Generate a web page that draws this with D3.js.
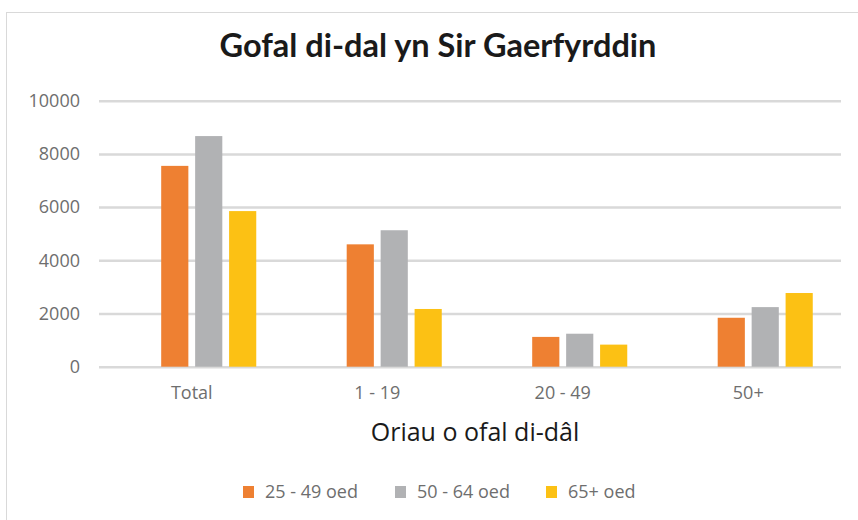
<!DOCTYPE html>
<html><head><meta charset="utf-8">
<script src="https://cdn.jsdelivr.net/npm/d3@7"></script>
<style>
html,body{margin:0;padding:0;background:#fff;}
svg{display:block;}
</style></head>
<body>
<svg id="chart" width="858" height="520"></svg>
<script>
const title = "Gofal di-dal yn Sir Gaerfyrddin";
const xTitle = "Oriau o ofal di-dâl";
const categories = ["Total", "1 - 19", "20 - 49", "50+"];
const seriesNames = ["25 - 49 oed", "50 - 64 oed", "65+ oed"];
const colors = ["#EE8032", "#B1B2B4", "#FCC114"];
const s2549 = [7550, 4600, 1120, 1840];
const s5064 = [8670, 5130, 1240, 2240];
const s65 = [5850, 2170, 830, 2770];
const yTicks = [0, 2000, 4000, 6000, 8000, 10000];
// the original chart keeps an empty first series slot in each group
const slots = ["(gwag)", ...seriesNames];

const seriesValues = [s2549, s5064, s65];
const svg = d3.select("#chart");
const font = "'Open Sans', 'Noto Sans', sans-serif";

svg.append("rect").attr("x", 6.5).attr("y", 12.5).attr("width", 870).attr("height", 530)
  .attr("fill", "#fff").attr("stroke", "#D9D9D9").attr("stroke-width", 1);

const plot = {left: 99, right: 841, top: 100.7, bottom: 366.7};

const y = d3.scaleLinear().domain([0, 10000]).range([plot.bottom, plot.top]);
const x0 = d3.scaleBand().domain(categories).range([plot.left, plot.right]).paddingInner(0).paddingOuter(0);
const x1 = d3.scaleBand().domain(slots).range([0, x0.bandwidth()]).paddingInner(0.2).paddingOuter(0.832);

// gridlines
const yAxis = d3.axisLeft(y).tickValues(yTicks).tickSize(-(plot.right - plot.left)).tickFormat(d3.format("d"));
const gy = svg.append("g").attr("transform", `translate(${plot.left},0)`).call(yAxis);
gy.select(".domain").remove();
gy.selectAll(".tick line").attr("stroke", "#D9D9D9").attr("stroke-width", 2.5);
gy.selectAll(".tick text").attr("x", -19).attr("fill", "#6E6E6E")
  .style("font-family", font).style("font-size", "18px");

// bars
const groups = svg.append("g").selectAll("g").data(categories).join("g")
  .attr("transform", d => `translate(${x0(d)},0)`);
seriesNames.forEach((name, si) => {
  groups.append("rect")
    .attr("x", (d) => x1(name))
    .attr("width", x1.bandwidth())
    .attr("y", (d, i) => y(seriesValues[si][i]))
    .attr("height", (d, i) => y(0) - y(seriesValues[si][i]))
    .attr("fill", colors[si]);
});

// x axis labels
const xAxis = d3.axisBottom(x0).tickSize(0).tickPadding(0);
const gx = svg.append("g").attr("transform", `translate(0,${plot.bottom + 20})`).call(xAxis);
gx.select(".domain").remove();
gx.selectAll(".tick text").attr("fill", "#6E6E6E").style("font-family", font).style("font-size", "18px");

// title
svg.append("text").attr("x", 438).attr("y", 57).attr("text-anchor", "middle")
  .attr("fill", "#1a1a1a").style("font-family", "Lato, 'Open Sans', sans-serif")
  .style("font-weight", 700).style("font-size", "32.5px").text(title);

// x title
svg.append("text").attr("x", 475).attr("y", 441).attr("text-anchor", "middle")
  .attr("fill", "#1a1a1a").style("font-family", font).style("font-size", "25px").text(xTitle);

// legend
const legendX = [243, 395, 546];
const lg = svg.append("g").selectAll("g").data(seriesNames).join("g")
  .attr("transform", (d, i) => `translate(${legendX[i]},486)`);
lg.append("rect").attr("width", 11).attr("height", 12).attr("fill", (d, i) => colors[i]);
lg.append("text").attr("x", 22).attr("y", 12).attr("fill", "#6E6E6E")
  .style("font-family", font).style("font-size", "18px").text(d => d);
</script>
</body></html>
